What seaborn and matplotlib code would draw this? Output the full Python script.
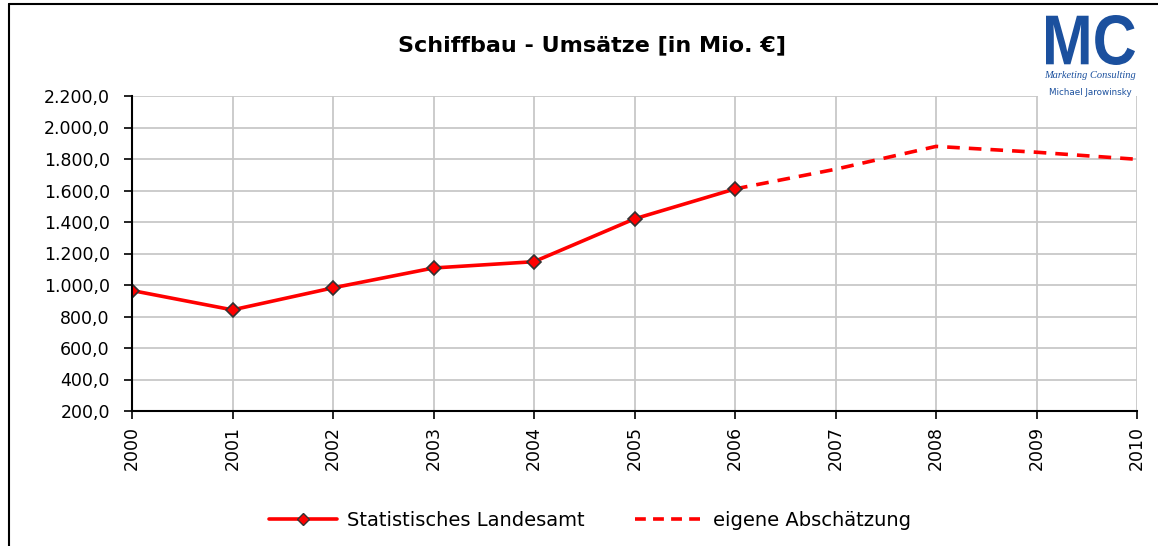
import pandas as pd
import matplotlib.pyplot as plt
import matplotlib.ticker as mticker
from matplotlib.lines import Line2D
from matplotlib.patches import PathPatch, Rectangle
from matplotlib.textpath import TextPath
from matplotlib.font_manager import FontProperties
from matplotlib.transforms import Affine2D
import seaborn as sns

# Data
years_stat = [2000, 2001, 2002, 2003, 2004, 2005, 2006]
umsatz_stat = [965, 842, 982, 1108, 1148, 1420, 1610]

years_est = [2006, 2007, 2008, 2009, 2010]
umsatz_est = [1610, 1735, 1880, 1843, 1798]

year_ticks = list(range(2000, 2011))

df_stat = pd.DataFrame({"Jahr": years_stat, "Umsatz": umsatz_stat})
df_est = pd.DataFrame({"Jahr": years_est, "Umsatz": umsatz_est})

sns.set_style("white")
plt.rcParams["font.family"] = ["DejaVu Sans"]
plt.rcParams["text.color"] = "black"
plt.rcParams["xtick.color"] = "black"
plt.rcParams["ytick.color"] = "black"

W, H = 1158, 546
fig = plt.figure(figsize=(W / 100, H / 100), dpi=100)
ax = fig.add_axes([132 / W, 1 - 411 / H, (1137 - 132) / W, (411 - 96) / H])

sns.lineplot(data=df_est, x="Jahr", y="Umsatz", ax=ax, color="#ff0000",
             linewidth=2.6, linestyle=(0, (3.5, 2.5)))
sns.lineplot(data=df_stat, x="Jahr", y="Umsatz", ax=ax, color="#ff0000",
             linewidth=2.6, marker="D", markersize=7,
             markerfacecolor="#ff0000", markeredgecolor="#333333",
             markeredgewidth=1.2)

ax.set_xlim(2000, 2010)
ax.set_ylim(200, 2200)
ax.set_xticks(year_ticks)
ax.set_xticklabels([str(y) for y in year_ticks], rotation=90)
ax.yaxis.set_major_locator(mticker.MultipleLocator(200))
ax.yaxis.set_major_formatter(mticker.FuncFormatter(
    lambda v, p: f"{v:,.1f}".replace(",", "X").replace(".", ",").replace("X", ".")))

ax.grid(True, color="#c8c8c8", linewidth=1.3)
ax.set_axisbelow(True)
for side in ["top", "right"]:
    ax.spines[side].set_visible(False)
for side in ["left", "bottom"]:
    ax.spines[side].set_color("black")
    ax.spines[side].set_linewidth(1.5)
ax.tick_params(axis="both", which="major", direction="out", length=6, width=1.2,
               color="black", labelcolor="black", labelsize=12.5,
               left=True, bottom=True)
ax.tick_params(axis="y", pad=10)
ax.tick_params(axis="x", pad=5)
ax.set_xlabel("")
ax.set_ylabel("")

fig.text(592 / W, 1 - 45 / H, "Schiffbau - Umsätze [in Mio. €]", ha="center",
         va="center", fontsize=16, fontweight="bold")

# legend
handles = [
    Line2D([], [], color="#ff0000", linewidth=2.6, marker="D", markersize=6,
           markerfacecolor="#ff0000", markeredgecolor="#333333"),
    Line2D([], [], color="#ff0000", linewidth=2.6, linestyle=(0, (3, 2))),
]
fig.legend(handles, ["Statistisches Landesamt", "eigene Abschätzung"],
           loc="center", bbox_to_anchor=(590 / W, 1 - 520 / H), ncol=2,
           frameon=False, fontsize=14, handlelength=3.5, columnspacing=2.6,
           handletextpad=0.5)

# logo (white box hides the grid below it)
fig.add_artist(Rectangle((1038 / W, 1 - 100 / H), (1136 - 1038) / W, 92 / H,
                         transform=fig.transFigure, facecolor="white",
                         edgecolor="none", zorder=5))
tp = TextPath((0, 0), "MC", size=1,
              prop=FontProperties(family="Liberation Sans", weight="bold"))
ext = tp.get_extents()
x0, x1, ytop, ybase = 1046, 1135, 15, 65
sx = (x1 - x0) / ext.width
sy = (ybase - ytop) / ext.height
tr = (Affine2D().translate(-ext.x0, -ext.y0).scale(sx / W, sy / H)
      .translate(x0 / W, 1 - ybase / H)) + fig.transFigure
fig.add_artist(PathPatch(tp, transform=tr, facecolor="#1b509e",
                         edgecolor="none", zorder=6))
fig.text(1090 / W, 1 - 75 / H, "Marketing Consulting", ha="center",
         va="center", fontsize=7.5, style="italic", color="#1b509e",
         family="Liberation Serif", zorder=6)
fig.text(1090 / W, 1 - 92 / H, "Michael Jarowinsky", ha="center",
         va="center", fontsize=6.3, color="#1b509e", zorder=6)

# outer frame
fig.add_artist(Line2D([9 / W, 9 / W], [0, 1 - 4 / H],
                      transform=fig.transFigure, color="black", linewidth=1.5))
fig.add_artist(Line2D([9 / W, 1], [1 - 4 / H, 1 - 4 / H],
                      transform=fig.transFigure, color="black", linewidth=1.5))

fig.savefig("out.png", dpi=100)
